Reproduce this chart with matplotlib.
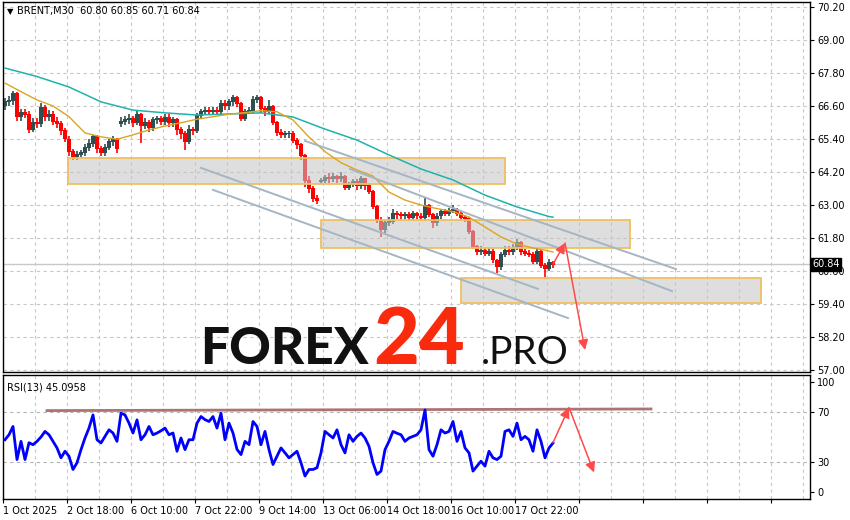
# BRENT M30 chart with RSI panel, MT4 style

import numpy as np
import matplotlib.pyplot as plt
from matplotlib.patches import Rectangle

# 2-hour candles built from the M30 chart
opens = [66.60, 66.75, 66.80, 67.05, 66.20, 66.35, 66.30, 65.75, 66.00, 65.95,
         66.55, 66.20, 66.30, 66.05, 65.95, 65.70, 65.40, 64.95, 64.75, 64.85,
         64.90, 65.10, 65.25, 65.50, 65.05, 64.90, 65.10, 65.30, 65.40, 65.95,
         66.05, 66.10, 66.15, 66.00, 66.30, 65.90, 66.00, 65.80, 66.10, 66.15,
         66.05, 66.20, 66.00, 66.10, 65.75, 65.60, 65.30, 65.75, 65.70, 66.25,
         66.40, 66.45, 66.40, 66.45, 66.40, 66.70, 66.60, 66.75, 66.90, 66.70,
         66.15, 66.40, 66.45, 66.85, 66.90, 66.50, 66.40, 66.60, 66.00, 65.65,
         65.55, 65.60, 65.60, 65.35, 65.20, 64.80, 63.90, 63.60, 63.25, 63.85,
         63.90, 64.00, 63.95, 64.05, 63.95, 64.05, 63.65, 63.75, 63.85, 63.70,
         63.95, 63.70, 63.50, 62.95, 62.45, 62.10, 62.35, 62.40, 62.70, 62.65,
         62.60, 62.65, 62.55, 62.70, 62.60, 62.55, 63.00, 62.65, 62.35, 62.60,
         62.75, 62.70, 62.80, 62.85, 62.70, 62.55, 62.50, 62.05, 61.50, 61.30,
         61.35, 61.25, 61.30, 61.00, 60.75, 61.20, 61.35, 61.30, 61.45, 61.65,
         61.30, 61.25, 61.20, 60.95, 61.30, 60.80, 60.70, 60.90]
closes = [66.75, 66.80, 67.05, 66.20, 66.35, 66.30, 65.75, 66.00, 65.95, 66.55,
          66.20, 66.30, 66.05, 65.95, 65.70, 65.40, 64.95, 64.75, 64.85, 64.90,
          65.10, 65.25, 65.50, 65.05, 64.90, 65.10, 65.30, 65.40, 65.05, 66.05,
          66.10, 66.15, 66.00, 66.30, 65.90, 66.00, 65.80, 66.10, 66.15, 66.05,
          66.20, 66.00, 66.10, 65.75, 65.60, 65.30, 65.75, 65.70, 66.25, 66.40,
          66.45, 66.40, 66.45, 66.40, 66.70, 66.60, 66.75, 66.90, 66.70, 66.15,
          66.40, 66.45, 66.85, 66.90, 66.50, 66.40, 66.60, 66.00, 65.65, 65.55,
          65.60, 65.60, 65.35, 65.20, 64.80, 63.90, 63.60, 63.25, 63.15, 63.90,
          64.00, 63.95, 64.05, 63.95, 64.05, 63.65, 63.75, 63.85, 63.70, 63.95,
          63.70, 63.50, 62.95, 62.45, 62.10, 62.35, 62.40, 62.70, 62.65, 62.60,
          62.65, 62.55, 62.70, 62.60, 62.55, 63.00, 62.65, 62.35, 62.60, 62.75,
          62.70, 62.80, 62.85, 62.70, 62.55, 62.50, 62.05, 61.50, 61.30, 61.35,
          61.25, 61.30, 61.00, 60.75, 61.20, 61.35, 61.30, 61.45, 61.65, 61.30,
          61.25, 61.20, 60.95, 61.30, 60.80, 60.70, 60.90, 60.84]
highs = [66.90, 66.95, 67.15, 67.10, 66.50, 66.50, 66.40, 66.15, 66.15, 66.70,
         66.65, 66.45, 66.40, 66.20, 66.05, 65.80, 65.50, 65.05, 64.95, 65.00,
         65.20, 65.40, 65.55, 65.55, 65.15, 65.20, 65.40, 65.50, 65.45, 66.20,
         66.25, 66.30, 66.25, 66.40, 66.35, 66.15, 66.10, 66.20, 66.25, 66.25,
         66.30, 66.30, 66.20, 66.15, 65.85, 65.70, 65.90, 65.85, 66.35, 66.50,
         66.55, 66.55, 66.55, 66.55, 66.80, 66.80, 66.85, 67.00, 66.95, 66.75,
         66.50, 66.55, 66.95, 67.00, 66.95, 66.60, 66.80, 66.65, 66.05, 65.75,
         65.70, 65.70, 65.70, 65.45, 65.25, 64.85, 64.05, 63.70, 63.35, 64.00,
         64.10, 64.15, 64.15, 64.10, 64.20, 64.10, 63.85, 63.95, 63.95, 64.05,
         64.00, 63.80, 63.55, 63.00, 62.55, 62.45, 62.55, 62.85, 62.80, 62.75,
         62.75, 62.75, 62.80, 62.75, 62.70, 63.30, 63.05, 62.70, 62.70, 62.85,
         62.85, 62.90, 63.00, 62.90, 62.80, 62.65, 62.55, 62.10, 61.55, 61.50,
         61.45, 61.45, 61.40, 61.05, 61.30, 61.50, 61.50, 61.60, 61.75, 61.70,
         61.40, 61.35, 61.30, 61.40, 61.35, 60.90, 61.05, 60.95]
lows = [66.45, 66.60, 66.65, 66.05, 66.05, 66.15, 65.60, 65.65, 65.80, 65.85,
        66.05, 66.05, 65.90, 65.80, 65.55, 65.30, 64.80, 64.65, 64.65, 64.75,
        64.80, 64.95, 65.10, 64.90, 64.80, 64.80, 65.00, 65.15, 64.90, 65.85,
        65.90, 65.95, 65.85, 65.90, 65.25, 65.75, 65.65, 65.70, 65.95, 65.90,
        65.90, 65.85, 65.85, 65.55, 65.40, 65.00, 65.20, 65.55, 65.60, 66.15,
        66.30, 66.30, 66.30, 66.30, 66.30, 66.45, 66.45, 66.60, 66.55, 66.05,
        66.05, 66.30, 66.35, 66.70, 66.35, 66.25, 66.30, 65.90, 65.50, 65.45,
        65.45, 65.45, 65.25, 65.05, 64.65, 63.65, 63.45, 63.10, 63.05, 63.75,
        63.80, 63.80, 63.85, 63.80, 63.85, 63.55, 63.55, 63.65, 63.55, 63.60,
        63.55, 63.40, 62.85, 62.35, 61.85, 62.00, 62.25, 62.30, 62.50, 62.50,
        62.50, 62.45, 62.45, 62.50, 62.45, 62.45, 62.55, 62.15, 62.25, 62.50,
        62.60, 62.60, 62.70, 62.60, 62.45, 62.40, 61.95, 61.40, 61.20, 61.20,
        61.15, 61.15, 60.90, 60.53, 60.65, 61.10, 61.20, 61.20, 61.35, 61.20,
        61.15, 61.10, 60.85, 60.85, 60.70, 60.35, 60.60, 60.71]

rsi = [47.8, 51.8, 58.5, 31.8, 46.5, 31.8, 45.4, 43.8, 46.5, 50.0,
       54.5, 51.8, 46.5, 41.2, 33.2, 38.5, 34.5, 23.8, 29.2, 39.8,
       49.2, 57.2, 67.8, 47.8, 45.2, 50.5, 55.8, 53.2, 46.5, 69.2,
       67.8, 61.2, 53.2, 63.8, 47.8, 51.8, 58.5, 51.8, 53.2, 55.0,
       57.2, 51.8, 53.2, 38.5, 49.2, 39.8, 47.8, 47.8, 61.2, 66.5,
       64.0, 62.5, 66.5, 57.2, 69.2, 47.8, 61.2, 53.2, 40.0, 35.8,
       46.5, 43.8, 62.5, 58.5, 43.8, 54.5, 39.8, 27.8, 34.5, 41.2,
       37.2, 33.2, 35.8, 38.5, 29.2, 18.5, 23.8, 23.8, 25.2, 37.2,
       54.5, 51.8, 49.2, 55.8, 43.8, 37.2, 51.8, 46.5, 50.5, 53.2,
       49.2, 42.5, 29.2, 19.8, 22.5, 39.8, 46.5, 54.5, 53.0, 51.8,
       46.5, 49.2, 50.5, 51.8, 55.8, 71.8, 39.8, 34.5, 43.8, 55.8,
       53.2, 54.5, 62.5, 46.5, 54.5, 41.2, 37.2, 22.5, 26.5, 30.5,
       26.5, 38.5, 33.2, 31.8, 34.5, 54.5, 55.8, 50.5, 61.2, 47.8,
       50.5, 47.8, 38.5, 55.8, 46.5, 33.2, 41.2, 45.1]

# moving averages (bar index, price)
ma_fast_bars = [0, 4, 8, 12, 16, 20, 24, 28, 32, 36, 40, 44, 48, 52, 56, 60, 64, 68,
                72, 76, 80, 84, 88, 92, 96, 100, 104, 108, 112, 116, 120, 124, 128,
                132, 136, 137]
ma_fast = [67.43, 67.12, 66.82, 66.60, 66.21, 65.62, 65.48, 65.39, 65.55, 65.73,
           65.87, 65.99, 66.12, 66.21, 66.30, 66.36, 66.43, 66.39, 66.09, 65.47,
           64.94, 64.54, 64.27, 64.05, 63.47, 63.18, 63.00, 62.87, 62.76, 62.56,
           62.20, 61.84, 61.58, 61.44, 61.33, 61.29]
ma_slow_bars = [0, 8, 16, 24, 32, 40, 48, 56, 64, 72, 80, 88, 96, 104, 112, 120,
                128, 136, 137]
ma_slow = [67.98, 67.67, 67.29, 66.75, 66.45, 66.35, 66.27, 66.31, 66.35, 66.20,
           65.76, 65.36, 64.82, 64.31, 63.91, 63.36, 62.93, 62.58, 62.56]

# zones: (start bar, end bar, low, high)
zones = [(15.75, 125.0, 63.76, 64.71),
         (79.0, 156.25, 61.44, 62.45),
         (114.0, 189.0, 59.44, 60.35)]
# trend lines: (bar1, price1, bar2, price2)
trend_lines = [(75.0, 65.33, 167.75, 60.67),
               (86.25, 64.31, 166.75, 59.87),
               (49.0, 64.35, 133.25, 59.95),
               (52.0, 63.55, 140.75, 58.89)]
price_arrows = [(137.0, 60.85, 140.0, 61.62), (140.0, 61.62, 145.0, 57.73)]
rsi_arrows = [(137.0, 45.4, 141.0, 73.8), (141.0, 73.8, 147.25, 21.4)]
rsi_level_line = (10.5, 71.3, 161.5, 72.6)

date_labels = ['1 Oct 2025', '2 Oct 18:00', '6 Oct 10:00', '7 Oct 22:00', '9 Oct 14:00',
               '13 Oct 06:00', '14 Oct 18:00', '16 Oct 10:00', '17 Oct 22:00']
price_ticks = [57.00, 58.20, 59.40, 60.60, 61.80, 63.00, 64.20, 65.40, 66.60, 67.80,
               69.00, 70.20]
last_price = 60.84

grid_col = '#c8c8c8'
bull_col = '#2f4f4f'
bear_col = '#ff0000'

fig = plt.figure(figsize=(8.5, 5.2), dpi=100)
ax = fig.add_axes([3/850, 1 - 372/520, 807/850, 370/520])
ax2 = fig.add_axes([3/850, 1 - 499/520, 807/850, 124/520])

xmin, xmax = -0.5, 201.25
bars = np.arange(len(closes))
major_x = np.arange(xmin, xmax, 16)

for a in (ax, ax2):
    a.set_xlim(xmin, xmax)
    for s in a.spines.values():
        s.set_color('black')
        s.set_linewidth(1)
    a.set_xticks(major_x)
    a.set_xticks(np.arange(xmin + 8, xmax, 16), minor=True)
    a.grid(True, which='both', axis='x', color=grid_col, linestyle=(0, (3, 3)), lw=0.8)
    a.yaxis.tick_right()
    a.tick_params(axis='y', labelsize=7, length=3, pad=2)
    a.tick_params(axis='x', which='minor', length=0)

# ---- main panel ----
ax.set_ylim(56.93, 70.38)
ax.set_yticks(price_ticks)
ax.set_yticklabels(['%.2f' % p for p in price_ticks])
ax.grid(True, axis='y', color=grid_col, linestyle=(0, (3, 3)), lw=0.8)
ax.tick_params(axis='x', length=0, labelbottom=False)

o = np.array(opens)
c = np.array(closes)
cols = np.where(c >= o, bull_col, bear_col)
ax.vlines(bars, lows, highs, colors=cols, lw=1.2, zorder=2)
ax.bar(bars, np.abs(c - o) + 0.03, bottom=np.minimum(o, c) - 0.015, width=0.8,
       color=cols, lw=0, zorder=2)

ax.axhline(last_price, color='#c8c8c8', lw=1, zorder=1)

for x0, x1, lo, hi in zones:
    ax.add_patch(Rectangle((x0, lo), x1 - x0, hi - lo, facecolor='#c4c4c4', alpha=0.55,
                           edgecolor='none', zorder=3))
    ax.add_patch(Rectangle((x0, lo), x1 - x0, hi - lo, facecolor='none',
                           edgecolor='#f0c060', lw=1.3, zorder=3))

ax.plot(ma_slow_bars, ma_slow, color='#20b2aa', lw=1.1, zorder=4)
ax.plot(ma_fast_bars, ma_fast, color='#daa520', lw=1.0, zorder=4)

for x0, y0, x1, y1 in trend_lines:
    ax.plot([x0, x1], [y0, y1], color='#a4b6c4', lw=1.4, zorder=4)

for x0, y0, x1, y1 in price_arrows:
    ax.annotate('', xy=(x1, y1), xytext=(x0, y0),
                arrowprops=dict(arrowstyle='-|>', color='#ff4a4a', lw=1.1,
                                mutation_scale=15, shrinkA=0, shrinkB=0), zorder=5)

ax.text(1.003, last_price, '%.2f' % last_price, transform=ax.get_yaxis_transform(),
        fontsize=7, color='white', va='center', ha='left',
        bbox=dict(boxstyle='square,pad=0.15', facecolor='black', edgecolor='black'),
        zorder=6, clip_on=False)

ax.text(0.005, 0.975, '\u25bc', transform=ax.transAxes, fontsize=6, va='center', ha='left')
ax.text(0.0175, 0.975, 'BRENT,M30  60.80 60.85 60.71 60.84', transform=ax.transAxes,
        fontsize=7, va='center', ha='left')

# ---- RSI panel ----
ax2.set_ylim(0, 100)
ax2.set_yticks([94.5, 70, 30, 5.5])
ax2.set_yticklabels(['100', '70', '30', '0'])
for lvl in (70, 30):
    ax2.axhline(lvl, color='#b4b4b4', linestyle=(0, (3, 3)), lw=0.8, zorder=1)
ax2.plot(bars, rsi, color='#0000ff', lw=2, zorder=3)
x0, y0, x1, y1 = rsi_level_line
ax2.plot([x0, x1], [y0, y1], color='#a05a5a', lw=2, alpha=0.85, zorder=2)
for x0, y0, x1, y1 in rsi_arrows:
    ax2.annotate('', xy=(x1, y1), xytext=(x0, y0),
                 arrowprops=dict(arrowstyle='-|>', color='#ff4a4a', lw=1.1,
                                 mutation_scale=15, shrinkA=0, shrinkB=0), zorder=5)
labels_all = date_labels + [''] * (len(major_x) - len(date_labels))
ax2.set_xticklabels(labels_all, fontsize=7, ha='left')
ax2.tick_params(axis='x', which='major', length=3, pad=2)
ax2.text(0.005, 0.9, 'RSI(13) 45.0958', transform=ax2.transAxes, fontsize=7,
         va='center', ha='left')

# ---- watermark ----
fig.text(200/850, 1 - 364/520, 'FOREX', fontsize=37, family='Lato', weight='black',
         color='#111111', ha='left', va='baseline')
fig.text(373/850, 1 - 364/520, '24', fontsize=57, family='Lato', weight='black',
         color='#fa2a0c', ha='left', va='baseline')
fig.text(481/850, 1 - 364/520, '.PRO', fontsize=28, family='Lato', weight='normal',
         color='#111111', ha='left', va='baseline')

fig.savefig('out.png', dpi=100)
